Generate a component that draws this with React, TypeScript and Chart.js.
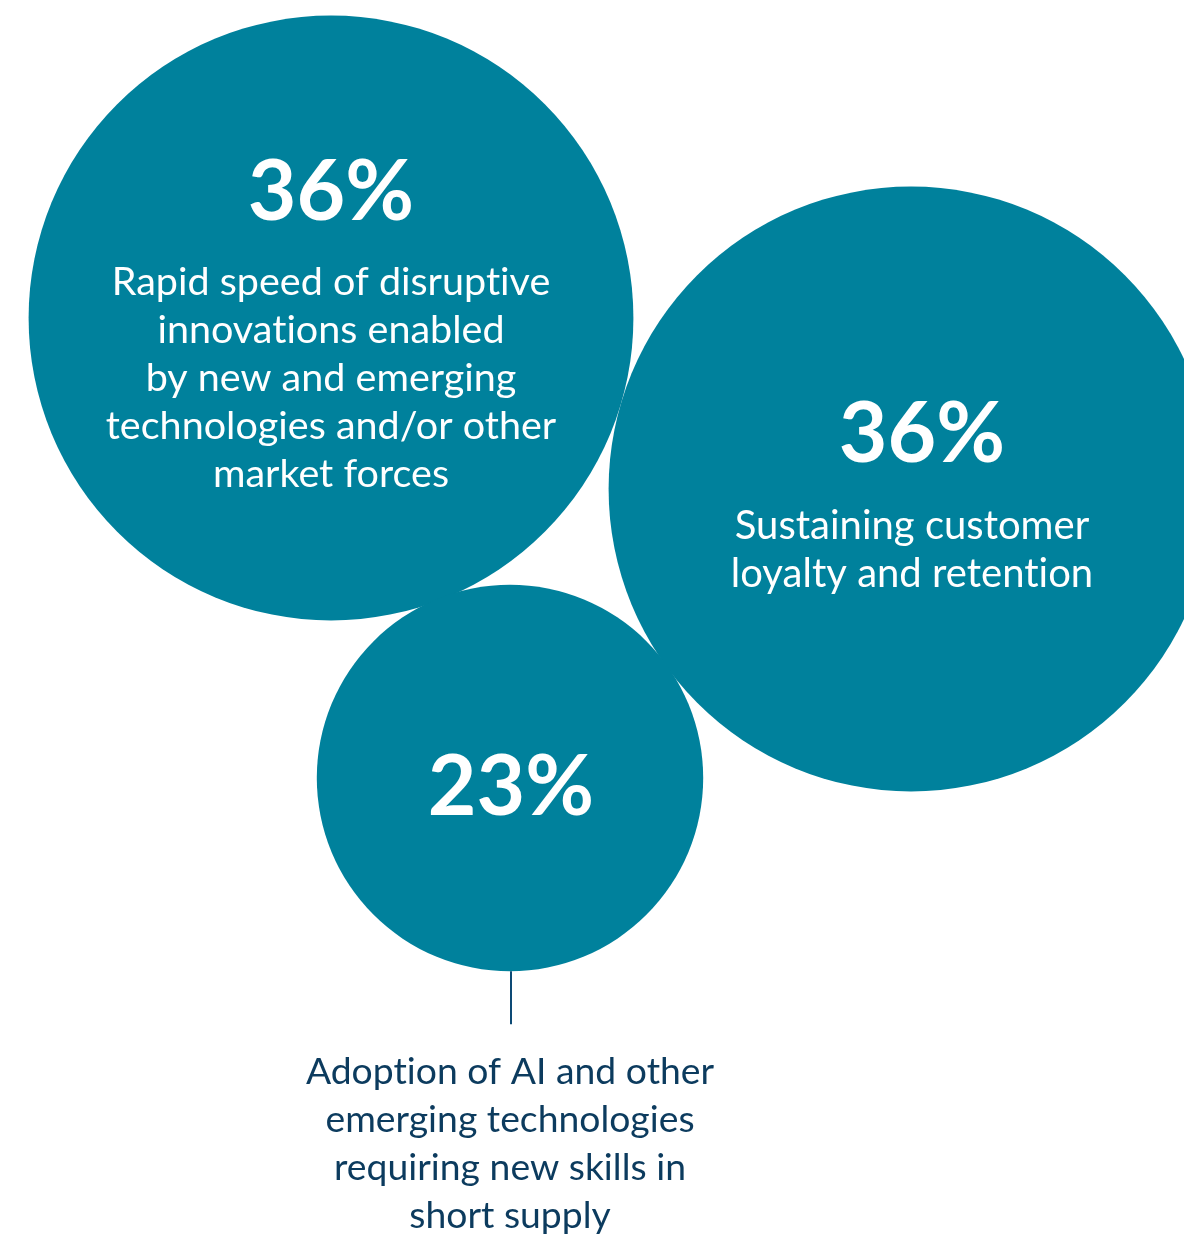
import React, { useEffect, useRef } from "react";
import { Chart, registerables } from "chart.js";

Chart.register(...registerables);

// Data
const categories = [
  "Rapid speed of disruptive innovations enabled by new and emerging technologies and/or other market forces",
  "Sustaining customer loyalty and retention",
  "Adoption of AI and other emerging technologies requiring new skills in short supply",
];
const values = [36, 36, 23];
const valueLabels = ["36%", "36%", "23%"];
// bubble centre positions (packed layout, in axis units)
const bubbleX = [331, 911, 510];
const bubbleY = [318, 489, 778];

const labelLines = [
  ["Rapid speed of disruptive", "innovations enabled", "by new and emerging", "technologies and/or other", "market forces"],
  ["Sustaining customer", "loyalty and retention"],
  ["Adoption of AI and other", "emerging technologies", "requiring new skills in", "short supply"],
];

const W = 1184;
const H = 1240;
const PX_PER_POINT = 8.4;
const TEAL = "#00819C";
const NAVY = "#0C3B5E";
const FONT = "Lato, 'Noto Sans', sans-serif";
const PCT_FONT = `bold 84px ${FONT}`;

const textPlugin = {
  id: "bubbleText",
  afterDatasetsDraw(chart: any) {
    const ctx = chart.ctx;
    const meta = chart.getDatasetMeta(0);
    ctx.save();
    ctx.textAlign = "center";
    ctx.textBaseline = "alphabetic";
    try { (ctx as any).letterSpacing = "0.01px"; } catch (e) {}
    meta.data.forEach((el: any, i: number) => {
      const cx = el.x;
      const cy = el.y;
      const r = values[i] * PX_PER_POINT;
      ctx.fillStyle = "#ffffff";
      ctx.font = PCT_FONT;
      if (i === 0) {
        ctx.fillText(valueLabels[i], cx, cy - 98);
        ctx.font = `39.5px ${FONT}`;
        labelLines[i].forEach((l, k) => ctx.fillText(l, cx, cy - 23 + 48 * k));
      } else if (i === 1) {
        ctx.fillText(valueLabels[i], cx + 11, cy - 27);
        ctx.font = `40px ${FONT}`;
        labelLines[i].forEach((l, k) => ctx.fillText(l, cx + 1, cy + 50 + 48 * k));
      } else {
        ctx.fillText(valueLabels[i], cx + 1, cy + 37);
        // leader line
        ctx.strokeStyle = "#0D4A75";
        ctx.lineWidth = 2;
        ctx.beginPath();
        ctx.moveTo(cx + 1, cy + r);
        ctx.lineTo(cx + 1, cy + r + 53);
        ctx.stroke();
        ctx.fillStyle = NAVY;
        ctx.font = `37.3px ${FONT}`;
        labelLines[i].forEach((l, k) => ctx.fillText(l, cx, cy + 306 + 48 * k));
      }
    });
    ctx.restore();
  },
};

export default function App() {
  const ref = useRef<HTMLCanvasElement>(null);
  useEffect(() => {
    if (!ref.current) return;
    const chart = new Chart(ref.current, {
      type: "bubble",
      data: {
        labels: categories,
        datasets: [
          {
            label: "Share",
            data: values.map((v, i) => ({ x: bubbleX[i], y: bubbleY[i], r: v * PX_PER_POINT })),
            backgroundColor: TEAL,
            borderWidth: 0,
            hoverRadius: 0,
            clip: false as any,
          },
        ],
      },
      options: {
        animation: false,
        responsive: false,
        layout: { padding: 0, autoPadding: false },
        plugins: { legend: { display: false }, tooltip: { enabled: false } },
        events: [],
        scales: {
          x: { type: "linear", min: 0, max: W, display: false },
          y: { type: "linear", min: 0, max: H, reverse: true, display: false },
        },
      },
      plugins: [textPlugin],
    });
    return () => chart.destroy();
  }, []);
  return (
    <div style={{ position: "absolute", left: 0, top: 0, width: W, height: H, background: "#fff" }}>
      <canvas ref={ref} width={W} height={H} style={{ display: "block" }} />
    </div>
  );
}
